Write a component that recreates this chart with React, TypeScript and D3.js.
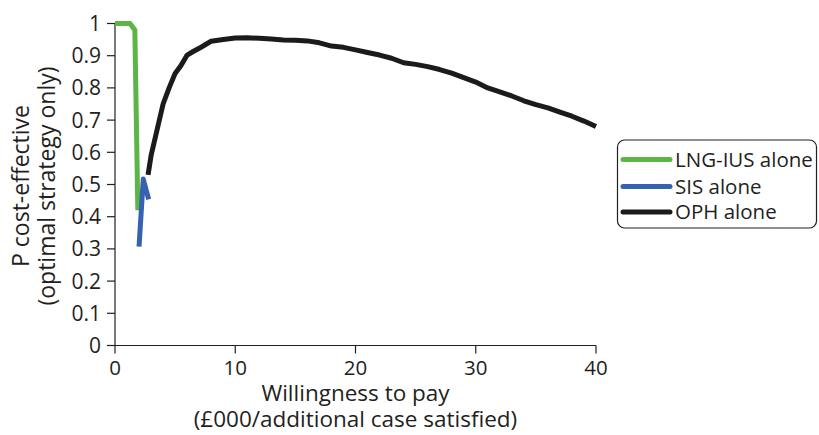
import React from "react";
import * as d3 from "d3";

const lngX = [0, 1.25, 1.65, 1.9];
const lngY = [1, 1, 0.98, 0.42];
const sisX = [2.0, 2.35, 2.8];
const sisY = [0.307, 0.517, 0.454];
const ophX = [2.75, 3, 3.5, 4, 4.5, 5, 5.5, 6, 6.5, 7, 7.5, 8, 9, 10, 11, 12, 13, 14, 15, 16, 17, 18, 19, 20, 21, 22, 23, 24, 25, 26, 27, 28, 29, 30, 31, 32, 33, 34, 35, 36, 37, 38, 39, 40];
const ophY = [0.53, 0.59, 0.67, 0.75, 0.8, 0.845, 0.87, 0.902, 0.913, 0.923, 0.934, 0.945, 0.95, 0.955, 0.956, 0.954, 0.952, 0.949, 0.948, 0.946, 0.94, 0.93, 0.926, 0.918, 0.91, 0.902, 0.892, 0.878, 0.873, 0.866, 0.857, 0.846, 0.832, 0.818, 0.8, 0.788, 0.775, 0.76, 0.748, 0.738, 0.725, 0.712, 0.697, 0.68];
const xTicks = [0, 10, 20, 30, 40];
const yTicks = [0, 0.1, 0.2, 0.3, 0.4, 0.5, 0.6, 0.7, 0.8, 0.9, 1];
const seriesNames = ["LNG-IUS alone", "SIS alone", "OPH alone"];
const seriesColors = ["#5cb646", "#3762b0", "#1c1a1a"];

const FONT = "'Open Sans', 'Noto Sans', sans-serif";
const INK = "#231f20";

export default function App() {
  const x = d3.scaleLinear().domain([0, 40]).range([115, 596]);
  const y = d3.scaleLinear().domain([0, 1]).range([345.5, 23.5]);
  const line = d3
    .line<[number, number]>()
    .x((d) => x(d[0]))
    .y((d) => y(d[1]));
  const series = [
    lngX.map((v, i) => [v, lngY[i]] as [number, number]),
    sisX.map((v, i) => [v, sisY[i]] as [number, number]),
    ophX.map((v, i) => [v, ophY[i]] as [number, number]),
  ];
  const fmt = (v: number) => (v === 0 || v === 1 ? String(v) : v.toFixed(1));
  const legendRows = [159.5, 186.5, 212];
  return (
    <svg
      width={819}
      height={435}
      style={{ position: "absolute", left: 0, top: 0, background: "#fff" }}
      fontFamily={FONT}
    >
      <line x1={x(0)} x2={x(0)} y1={y(1)} y2={y(0)} stroke={INK} strokeWidth={1.2} />
      <line x1={x(0)} x2={x(40)} y1={y(0)} y2={y(0)} stroke={INK} strokeWidth={1.2} />
      {yTicks.map((t) => (
        <g key={"y" + t}>
          <line x1={x(0) - 8} x2={x(0)} y1={y(t)} y2={y(t)} stroke={INK} strokeWidth={1.2} />
          <text x={101} y={y(t)} dy="0.36em" textAnchor="end" fontSize={21} fill={INK}>
            {fmt(t)}
          </text>
        </g>
      ))}
      {xTicks.map((t) => (
        <g key={"x" + t}>
          <line x1={x(t)} x2={x(t)} y1={y(0)} y2={y(0) + 8} stroke={INK} strokeWidth={1.2} />
          <text x={x(t)} y={375} textAnchor="middle" fontSize={20.5} fill={INK}>
            {t}
          </text>
        </g>
      ))}
      <text x={355.5} y={401} textAnchor="middle" fontSize={22.5} fill={INK}>
        Willingness to pay
      </text>
      <text x={355.5} y={427} textAnchor="middle" fontSize={22.5} fill={INK}>
        (£000/additional case satisfied)
      </text>
      <g transform="translate(21,186) rotate(-90)">
        <text x={0} y={0} dy="0.36em" textAnchor="middle" fontSize={23} fill={INK}>
          P cost-effective
        </text>
        <text x={0} y={26} dy="0.36em" textAnchor="middle" fontSize={23} fill={INK}>
          (optimal strategy only)
        </text>
      </g>
      {series.map((s, i) => (
        <path
          key={seriesNames[i]}
          d={line(s) || ""}
          fill="none"
          stroke={seriesColors[i]}
          strokeWidth={5}
          strokeLinejoin="round"
          strokeLinecap="butt"
        />
      ))}
      <rect x={617.5} y={140} width={199} height={88} rx={7} fill="#fff" stroke={INK} strokeWidth={1.2} />
      {seriesNames.map((n, i) => (
        <g key={"lg" + n}>
          <line x1={623} x2={670} y1={legendRows[i]} y2={legendRows[i]} stroke={seriesColors[i]} strokeWidth={5} strokeLinecap="round" />
          <text x={675} y={legendRows[i]} dy="0.36em" fontSize={20.5} fill={INK}>
            {n}
          </text>
        </g>
      ))}
    </svg>
  );
}
